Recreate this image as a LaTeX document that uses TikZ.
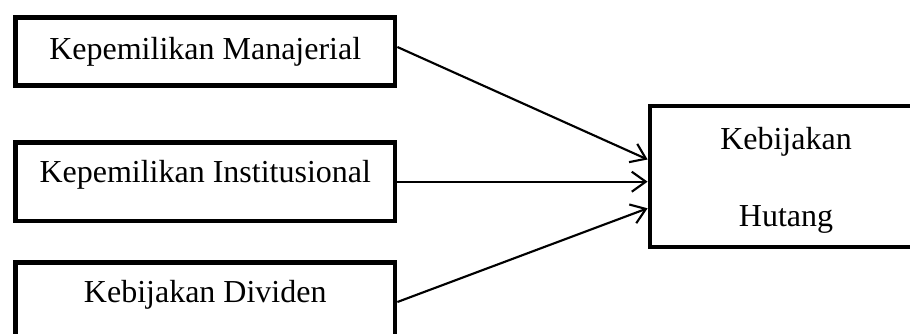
\documentclass[tikz,border=0pt]{standalone}
\usepackage{fontspec}
\setmainfont{Liberation Serif}
\usetikzlibrary{arrows.meta}
\tikzset{
  box/.style={draw=black, fill=white, line width=3.6pt, rectangle, inner sep=0pt,
    font=\fontsize{24pt}{28pt}\selectfont, text height=15.9pt},
  conn/.style={draw=black, line width=1.6pt, -{Straight Barb[length=10.5pt,width=15pt]}}
}
\begin{document}
\begin{tikzpicture}[x=0.75pt,y=-0.75pt]
\clip (0,0) rectangle (910,333);
\fill[white] (0,0) rectangle (910,333);
\node[box, minimum width=284.6pt, minimum height=51pt, text depth=4pt] (b1) at (205.25,51.5) {Kepemilikan Manajerial};
\node[box, minimum width=284.6pt, minimum height=58.9pt, text depth=15pt] (b2) at (205.25,181.75) {Kepemilikan Institusional};
\node[box, minimum width=284.6pt, minimum height=58.9pt, text depth=15pt] (b3) at (205.25,301.75) {Kebijakan Dividen};
\node[box, minimum width=204pt, minimum height=105.75pt, text height=, text depth=, align=center,
  font=\fontsize{24pt}{57.75pt}\selectfont] (rb) at (786,176.5) {\rule{0pt}{21.8pt}Kebijakan\\Hutang};
\draw[conn] (b1.east |- 0,47) -- (rb.west |- 0,159.5);
\draw[conn] (b2.east |- 0,181.7) -- (rb.west |- 0,181.7);
\draw[conn] (b3.east |- 0,302) -- (rb.west |- 0,208.3);
\end{tikzpicture}
\end{document}
